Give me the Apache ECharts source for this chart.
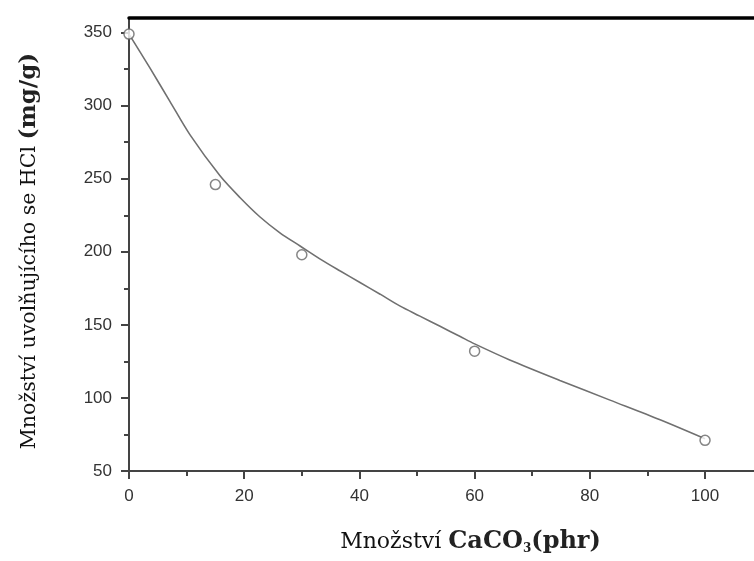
<!DOCTYPE html>
<html>
<head>
<meta charset="utf-8">
<script src="https://cdn.jsdelivr.net/npm/echarts@6/dist/echarts.min.js"></script>
<style>
  html, body { margin: 0; padding: 0; background: #fff; }
  #chart { width: 754px; height: 561px; }
</style>
</head>
<body>
<div id="chart"></div>
<script>
// Measured samples: CaCO3 content (phr) vs. HCl released (mg/g)
const sampleX = [0, 15, 30, 60, 100];
const sampleY = [349, 246, 198, 132, 71];

// Fitted trend curve traced along its length
const fitX = [0, 3.6, 7.1, 10.6, 15.8, 19.3, 22.7, 26.2, 29.7, 33.2, 36.6, 40.1, 43.6, 47, 50.5, 54, 57.5, 60, 66.1, 74.8, 83.5, 92.2, 100];
const fitY = [349, 326, 303, 280, 252, 237, 224, 213, 204, 195, 187, 179, 171, 163, 156, 149, 142, 137, 126, 112, 98.5, 85, 72];

// Axis ticks
const xMajor = [0, 20, 40, 60, 80, 100];
const xMinor = [10, 30, 50, 70, 90];
const yMajor = [50, 100, 150, 200, 250, 300, 350];
const yMinor = [75, 125, 175, 225, 275, 325];

const X_MIN = 0, X_MAX = 108.5;
const Y_MIN = 50, Y_MAX = 360;

const axisColor = '#444';
const textColor = '#333';

const chart = echarts.init(document.getElementById('chart'), null, { renderer: 'canvas' });

const baseX = {
  type: 'value', min: X_MIN, max: X_MAX, splitLine: { show: false }
};
const baseY = {
  type: 'value', min: Y_MIN, max: Y_MAX, splitLine: { show: false }
};

chart.setOption({
  animation: false,
  backgroundColor: '#fff',
  grid: { left: 129, right: 0, top: 18, bottom: 90, containLabel: false, outerBoundsMode: 'none' },
  xAxis: [
    Object.assign({}, baseX, {
      position: 'bottom',
      name: '{a|Množství }{b|CaCO}{s|3}{b|(phr)}',
      nameLocation: 'middle',
      nameGap: 58,
      nameTextStyle: {
        padding: [0, 0, 0, 58],
        rich: {
          a: { fontFamily: 'DejaVu Serif', fontSize: 22, color: '#111' },
          b: { fontFamily: 'DejaVu Serif', fontSize: 24, fontWeight: 'bold', color: '#222' },
          s: { fontFamily: 'DejaVu Serif', fontSize: 12, fontWeight: 'bold', color: '#222', padding: [14, 0, 0, 0] }
        }
      },
      axisLine: { show: true, lineStyle: { color: axisColor, width: 2 } },
      axisTick: { show: true, inside: false, length: 8, customValues: xMajor, lineStyle: { color: axisColor, width: 2 } },
      axisLabel: { show: true, customValues: xMajor, margin: 17, fontFamily: 'Liberation Sans', fontSize: 17, color: textColor }
    }),
    Object.assign({}, baseX, {
      position: 'bottom',
      axisLine: { show: false },
      axisTick: { show: true, inside: false, length: 5, customValues: xMinor, lineStyle: { color: axisColor, width: 2 } },
      axisLabel: { show: false }
    }),
    Object.assign({}, baseX, {
      position: 'top',
      axisLine: { show: true, lineStyle: { color: '#000', width: 3.5 } },
      axisTick: { show: false },
      axisLabel: { show: false }
    })
  ],
  yAxis: [
    Object.assign({}, baseY, {
      position: 'left',
      name: '{a|Množství uvolňujícího se HCl }{b|(mg/g)}',
      nameLocation: 'middle',
      nameGap: 88,
      nameRotate: 90,
      nameTextStyle: {
        padding: [0, 13, 0, 0],
        rich: {
          a: { fontFamily: 'DejaVu Serif', fontSize: 20.5, color: '#111' },
          b: { fontFamily: 'DejaVu Serif', fontSize: 23, fontWeight: 'bold', color: '#222' }
        }
      },
      axisLine: { show: true, lineStyle: { color: axisColor, width: 2 } },
      axisTick: { show: true, inside: false, length: 8, customValues: yMajor, lineStyle: { color: axisColor, width: 2 } },
      axisLabel: { show: true, customValues: yMajor, margin: 17, fontFamily: 'Liberation Sans', fontSize: 17, color: textColor }
    }),
    Object.assign({}, baseY, {
      position: 'left',
      axisLine: { show: false },
      axisTick: { show: true, inside: false, length: 5, customValues: yMinor, lineStyle: { color: axisColor, width: 2 } },
      axisLabel: { show: false }
    })
  ],
  series: [
    {
      name: 'fit',
      type: 'line',
      xAxisIndex: 0, yAxisIndex: 0,
      data: fitX.map((x, i) => [x, fitY[i]]),
      smooth: 0.3,
      showSymbol: false,
      symbol: 'none',
      lineStyle: { color: '#707070', width: 1.6 },
      z: 2
    },
    {
      name: 'samples',
      type: 'scatter',
      xAxisIndex: 0, yAxisIndex: 0,
      data: sampleX.map((x, i) => [x, sampleY[i]]),
      symbol: 'circle',
      symbolSize: 10,
      itemStyle: { color: '#fff', borderColor: '#666', borderWidth: 1.5 },
      z: 3
    }
  ]
});
</script>
</body>
</html>
